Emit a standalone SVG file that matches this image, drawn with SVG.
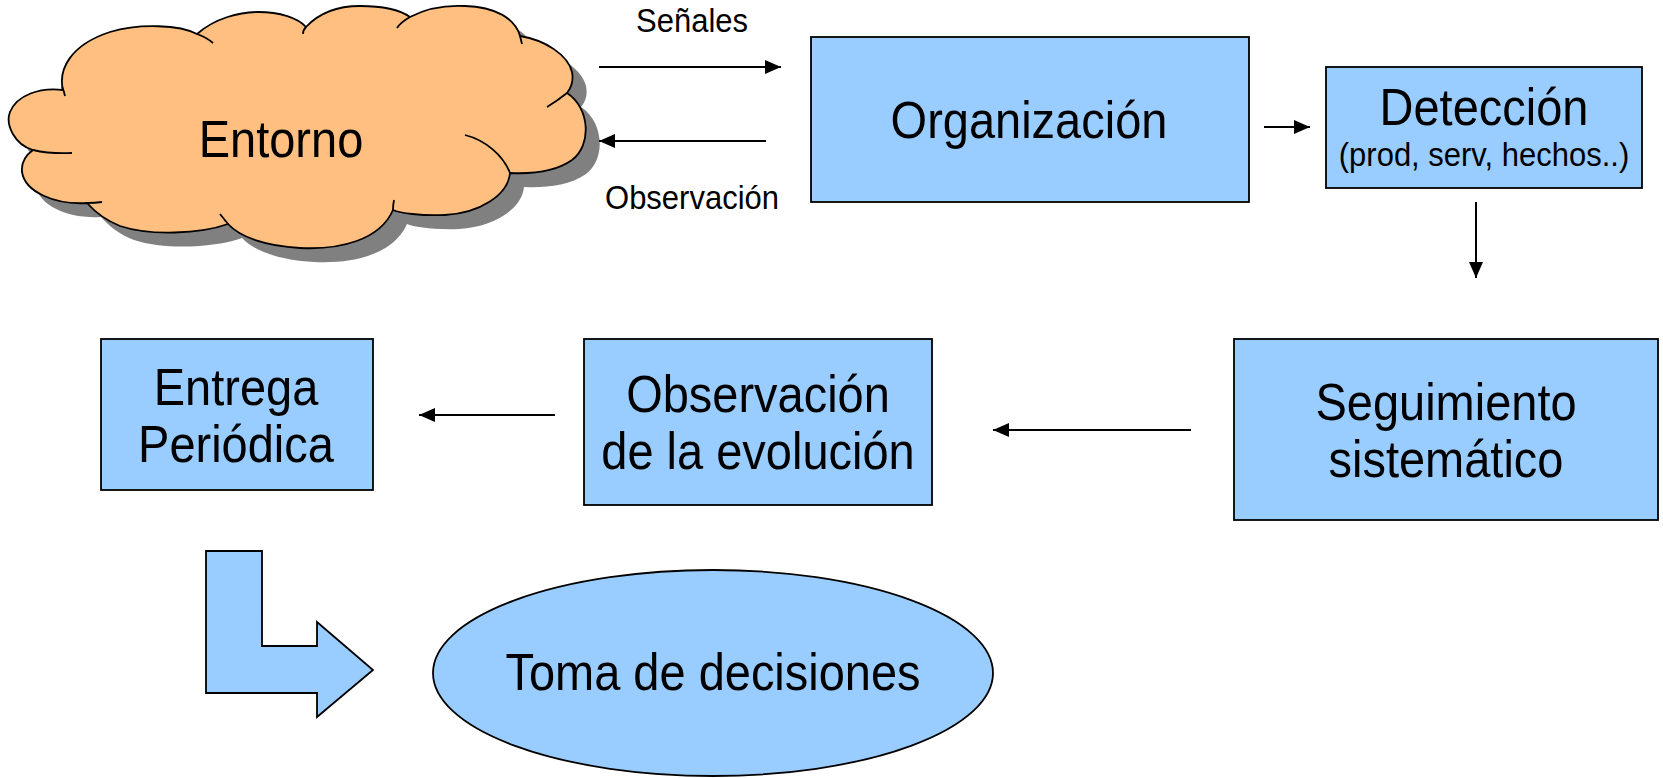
<svg xmlns="http://www.w3.org/2000/svg" width="1663" height="778" viewBox="0 0 1663 778">
<defs>
<style>
.box{fill:#99CCFF;stroke:#000;stroke-width:1.8}
.t{font-family:"Liberation Sans",Arial,sans-serif;fill:#000;text-anchor:middle}
.big{font-size:47px}
.sm{font-size:31px}
.conn{stroke:#000;stroke-width:2;fill:none}
.tick{fill:none;stroke:#000;stroke-width:1.8}
</style>
<marker id="ah" markerUnits="userSpaceOnUse" markerWidth="16" markerHeight="14" refX="16" refY="7" orient="auto">
<path d="M0,0 L16,7 L0,14 Z" fill="#000"/>
</marker>
<path id="cloudShape" d="M63,90 C58,70 70,45 110,32 C140,23 180,25 197,34 C215,18 240,12 258,12 C280,12 298,18 306,27 C320,12 340,6 360,6 C382,6 400,10 410,17 C425,9 445,5 465,6 C495,7 515,18 520,36 C545,40 568,55 572,72 C574,82 571,88 567,93 C590,108 592,145 572,160 C555,172 530,174 510,173 C508,195 480,213 445,215 C420,216 400,213 393,210 C380,240 340,250 300,248 C265,246 240,237 228,224 C200,234 150,236 120,226 C105,220 95,212 87,203 C55,205 25,192 22,172 C21,162 26,155 33,150 C15,145 5,125 10,112 C17,95 40,87 63,90 Z"/>
</defs>
<rect width="1663" height="778" fill="#fff"/>

<g id="entorno">
<use href="#cloudShape" transform="translate(14,14)" fill="#808080"/>
<use href="#cloudShape" fill="#FFBF80" stroke="#000" stroke-width="1.8"/>
<path class="tick" d="M62,87 Q64,91 65,96 M197,34 Q206,37 213,43 M306,27 Q303,30 303,34 M410,17 Q401,22 397,28 M520,36 Q521,40 522,44 M567,93 Q557,101 547,107 M465,135 C485,140 503,155 510,173 M393,210 Q393,205 394,200 M228,224 Q224,219 220,214 M87,203 Q95,203 102,202 M33,150 Q50,154 72,153"/>
<text class="t big" transform="translate(281,157) scale(1,1.085)">Entorno</text>
</g>

<g id="organizacion">
<rect class="box" x="811" y="37" width="438" height="165"/>
<text class="t big" transform="translate(1029,138) scale(1,1.085)">Organización</text>
</g>

<g id="deteccion">
<rect class="box" x="1326" y="67" width="316" height="121"/>
<text class="t big" transform="translate(1484,125) scale(1,1.085)">Detección</text>
<text class="t sm" transform="translate(1484,166) scale(1,1.085)">(prod, serv, hechos..)</text>
</g>

<g id="seguimiento">
<rect class="box" x="1234" y="339" width="424" height="181"/>
<text class="t big" transform="translate(1446,420) scale(1,1.085)">Seguimiento</text>
<text class="t big" transform="translate(1446,477) scale(1,1.085)">sistemático</text>
</g>

<g id="observacion">
<rect class="box" x="584" y="339" width="348" height="166"/>
<text class="t big" transform="translate(758,412) scale(1,1.085)">Observación</text>
<text class="t big" transform="translate(758,469) scale(1,1.085)">de la evolución</text>
</g>

<g id="entrega">
<rect class="box" x="101" y="339" width="272" height="151"/>
<text class="t big" transform="translate(236,405) scale(1,1.085)">Entrega</text>
<text class="t big" transform="translate(236,462) scale(1,1.085)">Periódica</text>
</g>

<g id="flecha">
<path class="box" d="M206,551 L262,551 L262,646 L317,646 L317,622 L373,670 L317,717 L317,693 L206,693 Z"/>
</g>

<g id="decisiones">
<ellipse class="box" cx="713" cy="673" rx="280" ry="103"/>
<text class="t big" transform="translate(713,690) scale(1,1.085)">Toma de decisiones</text>
</g>

<g id="connectors">
<line class="conn" x1="599" y1="67" x2="781" y2="67" marker-end="url(#ah)"/>
<text class="t sm" transform="translate(692,32) scale(1,1.085)">Señales</text>
<line class="conn" x1="766" y1="141" x2="599" y2="141" marker-end="url(#ah)"/>
<text class="t sm" transform="translate(692,209) scale(1,1.085)">Observación</text>
<line class="conn" x1="1264" y1="127" x2="1310" y2="127" marker-end="url(#ah)"/>
<line class="conn" x1="1476" y1="202" x2="1476" y2="278" marker-end="url(#ah)"/>
<line class="conn" x1="1191" y1="430" x2="993" y2="430" marker-end="url(#ah)"/>
<line class="conn" x1="555" y1="415" x2="419" y2="415" marker-end="url(#ah)"/>
</g>
</svg>
